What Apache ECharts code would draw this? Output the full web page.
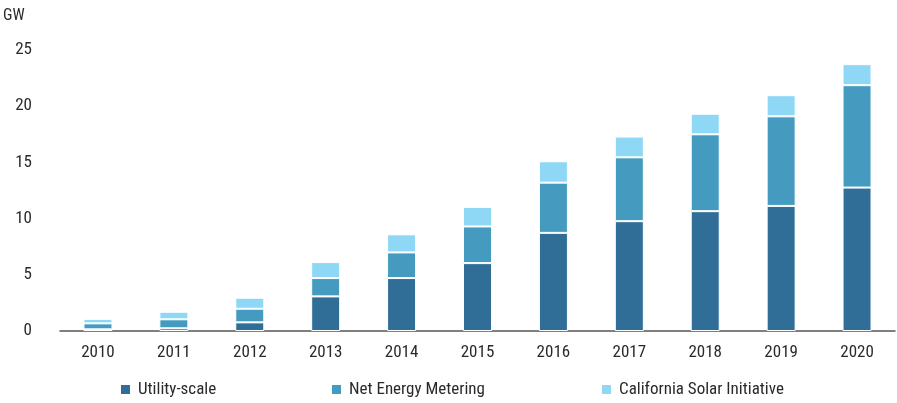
<!DOCTYPE html>
<html>
<head>
<meta charset="utf-8">
<script src="https://cdn.jsdelivr.net/npm/echarts@6/dist/echarts.min.js"></script>
<style>
  html, body { margin: 0; padding: 0; background: #fff; }
  #chart { width: 897px; height: 403px; }
</style>
</head>
<body>
<div id="chart"></div>
<script>
// Installed solar capacity in California by programme, GW
const years = ['2010', '2011', '2012', '2013', '2014', '2015', '2016', '2017', '2018', '2019', '2020'];
const utilityScale = [0.15, 0.24, 0.77, 3.08, 4.71, 6.04, 8.73, 9.77, 10.66, 11.13, 12.76];
const netEnergyMetering = [0.53, 0.80, 1.21, 1.63, 2.28, 3.26, 4.47, 5.68, 6.84, 7.97, 9.11];
const californiaSolar = [0.40, 0.67, 0.98, 1.42, 1.61, 1.74, 1.90, 1.85, 1.83, 1.88, 1.87];
const yTicks = [0, 5, 10, 15, 20, 25];

const FONT = '"Liberation Sans Narrow", "Roboto Condensed", "DejaVu Sans Condensed", sans-serif';
const TEXT = '#2a2a2a';

const seriesDefs = [
  { name: 'Utility-scale', data: utilityScale, color: '#306e98' },
  { name: 'Net Energy Metering', data: netEnergyMetering, color: '#449bbf' },
  { name: 'California Solar Initiative', data: californiaSolar, color: '#8ed8f6' }
];
const legendLeft = [114, 325, 595];

const chart = echarts.init(document.getElementById('chart'), null, { renderer: 'canvas' });
chart.setOption({
  animation: false,
  backgroundColor: '#ffffff',
  textStyle: { fontFamily: FONT, color: TEXT },
  grid: { left: 60, right: 2, top: 50, bottom: 72, containLabel: false },
  legend: seriesDefs.map((s, i) => ({
    data: [s.name],
    left: legendLeft[i],
    top: 376,
    icon: 'rect',
    itemWidth: 11,
    itemHeight: 11,
    itemGap: 0,
    textStyle: { fontFamily: FONT, fontSize: 17, color: TEXT, padding: [0, 0, 0, 2] }
  })),
  xAxis: {
    type: 'category',
    data: years,
    axisLine: { show: true, lineStyle: { color: '#555555', width: 1.5 } },
    axisTick: { show: false },
    axisLabel: { fontFamily: FONT, fontSize: 17, color: TEXT, margin: 13 }
  },
  yAxis: {
    type: 'value',
    min: yTicks[0],
    max: yTicks[yTicks.length - 1],
    interval: 5,
    name: 'GW',
    nameLocation: 'end',
    nameGap: 26,
    nameTextStyle: { fontFamily: FONT, fontSize: 16, color: TEXT, align: 'left', padding: [0, 0, 0, -57] },
    axisLine: { show: false },
    axisTick: { show: false },
    splitLine: { show: false },
    axisLabel: { fontFamily: FONT, fontSize: 17, color: TEXT, margin: 28, align: 'right' }
  },
  series: seriesDefs.map(s => ({
    name: s.name,
    type: 'bar',
    stack: 'total',
    data: s.data,
    barWidth: 29,
    itemStyle: { color: s.color, borderColor: '#ffffff', borderWidth: 1 }
  }))
});
</script>
</body>
</html>
